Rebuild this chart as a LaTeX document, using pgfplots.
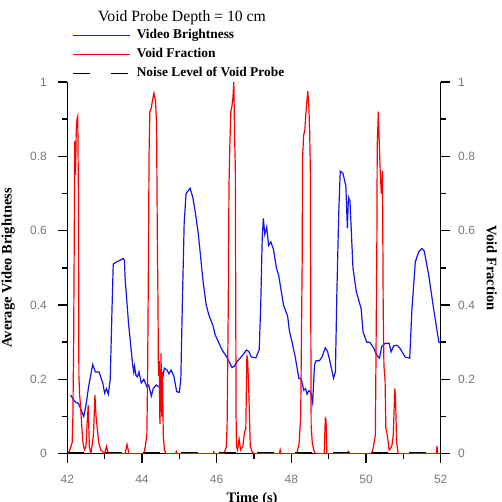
\documentclass[border=0pt]{standalone}
\usepackage{fontspec}
\setmainfont{Liberation Serif}
\setsansfont{Liberation Sans}
\usepackage{pgfplots}
\pgfplotsset{compat=1.18}
\definecolor{vbblue}{RGB}{20,20,235}
\definecolor{vfred}{RGB}{255,0,0}
\definecolor{ticklbl}{RGB}{120,120,120}

\pgfplotstableread{
t v
42.09 0.158
42.20 0.140
42.30 0.135
42.44 0.100
42.50 0.130
42.57 0.180
42.68 0.240
42.75 0.220
42.85 0.220
42.95 0.190
43.00 0.163
43.05 0.175
43.10 0.160
43.15 0.200
43.20 0.400
43.23 0.510
43.30 0.515
43.40 0.520
43.50 0.525
43.53 0.520
43.55 0.470
43.64 0.350
43.75 0.240
43.78 0.220
43.80 0.235
43.84 0.210
43.88 0.207
43.92 0.220
43.98 0.190
44.05 0.200
44.13 0.180
44.18 0.185
44.25 0.155
44.30 0.175
44.38 0.185
44.45 0.180
44.50 0.185
44.56 0.207
44.60 0.230
44.67 0.225
44.72 0.215
44.78 0.225
44.85 0.210
44.93 0.167
45.00 0.165
45.04 0.200
45.08 0.400
45.13 0.620
45.18 0.700
45.29 0.714
45.36 0.690
45.42 0.655
45.51 0.590
45.58 0.520
45.64 0.460
45.72 0.400
45.80 0.370
45.90 0.345
45.96 0.320
46.05 0.300
46.14 0.280
46.27 0.260
46.41 0.232
46.47 0.235
46.54 0.247
46.67 0.262
46.80 0.279
46.86 0.275
46.93 0.260
47.05 0.258
47.14 0.280
47.18 0.400
47.22 0.580
47.25 0.633
47.29 0.590
47.34 0.610
47.39 0.560
47.45 0.570
47.52 0.550
47.60 0.500
47.66 0.480
47.79 0.400
47.90 0.370
47.95 0.330
48.02 0.300
48.11 0.257
48.20 0.203
48.27 0.200
48.33 0.171
48.38 0.175
48.42 0.160
48.47 0.170
48.52 0.165
48.57 0.137
48.62 0.239
48.66 0.250
48.75 0.250
48.82 0.260
48.91 0.285
48.97 0.275
49.03 0.250
49.13 0.203
49.18 0.220
49.22 0.436
49.27 0.650
49.31 0.760
49.38 0.755
49.46 0.720
49.50 0.607
49.53 0.690
49.57 0.680
49.65 0.500
49.74 0.436
49.87 0.390
49.92 0.328
50.02 0.300
50.10 0.300
50.20 0.285
50.29 0.265
50.36 0.257
50.42 0.288
50.51 0.297
50.62 0.297
50.67 0.274
50.74 0.290
50.82 0.292
50.90 0.285
51.05 0.260
51.17 0.257
51.23 0.390
51.32 0.516
51.41 0.543
51.50 0.552
51.56 0.545
51.68 0.480
51.81 0.390
51.95 0.300
52.00 0.298
}\brightness

\pgfplotstableread{
t f
42.00 0.000
42.05 0.005
42.10 0.020
42.13 0.030
42.15 0.100
42.17 0.300
42.19 0.650
42.20 0.840
42.22 0.750
42.24 0.870
42.26 0.900
42.28 0.907
42.30 0.670
42.31 0.210
42.33 0.160
42.36 0.120
42.39 0.070
42.42 0.030
42.46 0.010
42.50 0.020
42.53 0.080
42.56 0.130
42.59 0.020
42.63 0.000
42.66 0.020
42.70 0.050
42.74 0.158
42.77 0.100
42.80 0.070
42.84 0.030
42.90 0.010
42.95 0.005
43.00 0.000
43.05 0.020
43.10 0.000
43.55 0.000
43.60 0.025
43.65 0.000
44.05 0.000
44.09 0.020
44.13 0.050
44.15 0.200
44.17 0.480
44.19 0.810
44.21 0.920
44.25 0.930
44.28 0.950
44.32 0.970
44.36 0.950
44.39 0.890
44.41 0.590
44.43 0.390
44.44 0.210
44.46 0.250
44.48 0.080
44.50 0.180
44.51 0.270
44.53 0.100
44.55 0.220
44.57 0.050
44.60 0.010
44.65 0.000
44.90 0.000
44.92 0.006
44.94 0.000
45.90 0.000
45.92 0.005
45.94 0.000
46.20 0.000
46.26 0.020
46.28 0.080
46.31 0.390
46.33 0.720
46.35 0.820
46.38 0.920
46.40 0.930
46.43 0.950
46.46 1.000
46.48 0.850
46.50 0.770
46.52 0.100
46.53 0.020
46.56 0.010
46.60 0.040
46.64 0.010
46.70 0.020
46.75 0.060
46.78 0.065
46.81 0.265
46.83 0.250
46.86 0.170
46.90 0.020
46.95 0.005
47.00 0.000
47.68 0.000
47.70 0.010
47.72 0.000
48.15 0.000
48.21 0.030
48.25 0.100
48.27 0.300
48.29 0.520
48.30 0.795
48.33 0.857
48.36 0.870
48.40 0.930
48.44 0.976
48.47 0.930
48.49 0.870
48.51 0.755
48.52 0.400
48.53 0.077
48.56 0.030
48.60 0.010
48.65 0.000
48.88 0.000
48.91 0.095
48.93 0.090
48.95 0.000
49.50 0.000
49.52 0.006
49.54 0.000
50.15 0.000
50.20 0.020
50.25 0.050
50.27 0.300
50.29 0.570
50.30 0.830
50.33 0.920
50.35 0.850
50.38 0.760
50.41 0.700
50.44 0.760
50.46 0.390
50.48 0.234
50.51 0.200
50.53 0.070
50.57 0.050
50.62 0.010
50.69 0.020
50.73 0.050
50.77 0.175
50.79 0.150
50.82 0.030
50.86 0.000
51.88 0.000
51.90 0.020
51.92 0.000
52.00 0.000
}\voidfrac

\begin{document}
\begin{tikzpicture}
\pgfplotsset{
  vpbase/.style={
    scale only axis,
    width=373.4pt, height=371.7pt,
    at={(67.3pt,47.3pt)}, anchor=south west,
    xmin=42, xmax=52, ymin=0, ymax=1,
    xtick={42,44,...,52}, minor x tick num=1,
    ytick={0,0.2,...,1}, minor y tick num=1,
    tick align=outside,
    major tick length=9pt, minor tick length=5pt,
    every tick/.style={black, line width=1.5pt},
    axis line style={black, line width=1.5pt},
    ticklabel style={font=\fontsize{12}{14}\sffamily, text=ticklbl},
    xticklabel style={yshift=-9pt},
    /pgf/number format/assume math mode=true,
    label style={font=\fontsize{14.5}{16}\selectfont\bfseries},
  }
}
\begin{axis}[
  vpbase,
  axis x line*=bottom, axis y line*=left,
  yticklabel style={xshift=-8pt},
  xlabel={Time (s)},
  xlabel style={at={(axis description cs:0.495,-0.132)}, anchor=base},
  ylabel={Average Video Brightness},
  ylabel style={at={(axis description cs:-0.158,0.5)}, anchor=center},
  legend style={at={(axis description cs:0.0126,1.1453)}, anchor=north west,
    draw=none, fill=none, inner sep=0pt, row sep=4.5pt, column sep=5pt,
    font=\fontsize{13.4}{15}\selectfont\bfseries,
    nodes={inner sep=1pt, text height=9.5pt, text depth=3pt}},
  legend cell align=left,
  legend image code/.code={\draw[#1, line width=1.6pt] (0pt,0pt) -- (57pt,0pt);},
]
\addplot[vbblue, line width=1.2pt] table[x=t, y=v] {\brightness};
\addlegendentry{Video Brightness}
\addplot[vfred, line width=1.2pt] table[x=t, y=f] {\voidfrac};
\addlegendentry{Void Fraction}
\addplot[black, line width=1.4pt, dash pattern=on 17pt off 21pt] coordinates {(42,0.004) (52,0.004)};
\addlegendentry{Noise Level of Void Probe}
\end{axis}
\begin{axis}[
  vpbase,
  axis x line=none, axis y line*=right,
  yticklabel style={xshift=5pt},
  ylabel={Void Fraction},
  ylabel style={at={(axis description cs:1.137,0.5)}, anchor=center, rotate=180},
]
\end{axis}
\node[anchor=base, font=\fontsize{15.7}{18}\selectfont] at (182pt,479.3pt) {Void Probe Depth = 10 cm};
\pgfresetboundingbox
\path[use as bounding box] (0,0) rectangle (502pt,501pt);
\end{tikzpicture}
\end{document}
